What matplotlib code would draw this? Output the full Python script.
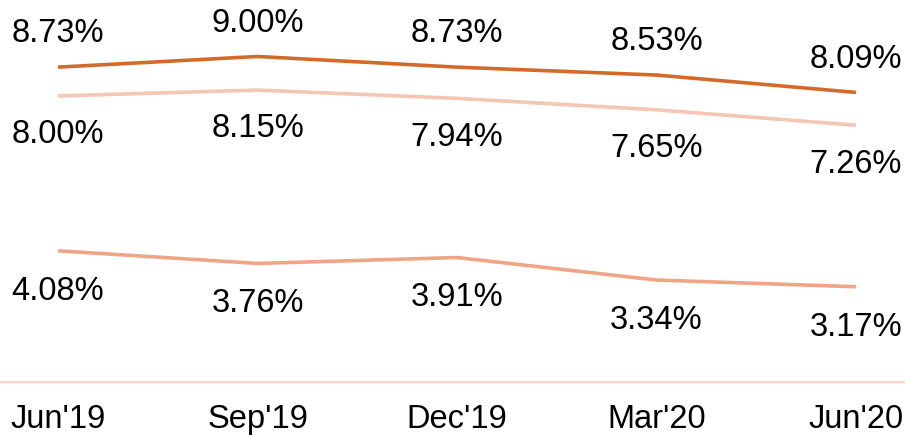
import matplotlib.pyplot as plt

plt.rcParams['font.family'] = ['Liberation Sans', 'DejaVu Sans']

# data
quarters = ["Jun'19", "Sep'19", "Dec'19", "Mar'20", "Jun'20"]
top_vals = [8.73, 9.00, 8.73, 8.53, 8.09]
mid_vals = [8.00, 8.15, 7.94, 7.65, 7.26]
low_vals = [4.08, 3.76, 3.91, 3.34, 3.17]

x = list(range(len(quarters)))

fig = plt.figure(figsize=(9.05, 4.36), dpi=100)
ax = fig.add_axes([0, 0.124, 1, 0.876])

ax.plot(x, top_vals, color="#D46A2A", lw=2.6, solid_capstyle="butt")
ax.plot(x, mid_vals, color="#F5C6B4", lw=2.6, solid_capstyle="butt")
ax.plot(x, low_vals, color="#F0A586", lw=2.6, solid_capstyle="butt")

fs = 23.5
for i in x:
    ax.annotate(f"{top_vals[i]:.2f}%", (i, top_vals[i]), xytext=(0, 24),
                textcoords="offset points", ha="center", va="center", fontsize=fs)
    ax.annotate(f"{mid_vals[i]:.2f}%", (i, mid_vals[i]), xytext=(0, -28),
                textcoords="offset points", ha="center", va="center", fontsize=fs)
    ax.annotate(f"{low_vals[i]:.2f}%", (i, low_vals[i]), xytext=(0, -29),
                textcoords="offset points", ha="center", va="center", fontsize=fs)

ax.set_xlim(-0.291, 4.246)
ax.set_ylim(0.76, 10.43)

for s in ["top", "right", "left"]:
    ax.spines[s].set_visible(False)
ax.spines["bottom"].set_color("#F8D3C6")
ax.spines["bottom"].set_linewidth(1.5)

ax.set_yticks([])
ax.set_xticks(x)
ax.set_xticklabels(quarters, fontsize=fs)
ax.tick_params(axis="x", length=0, pad=16)

fig.savefig("out.png", dpi=100)
